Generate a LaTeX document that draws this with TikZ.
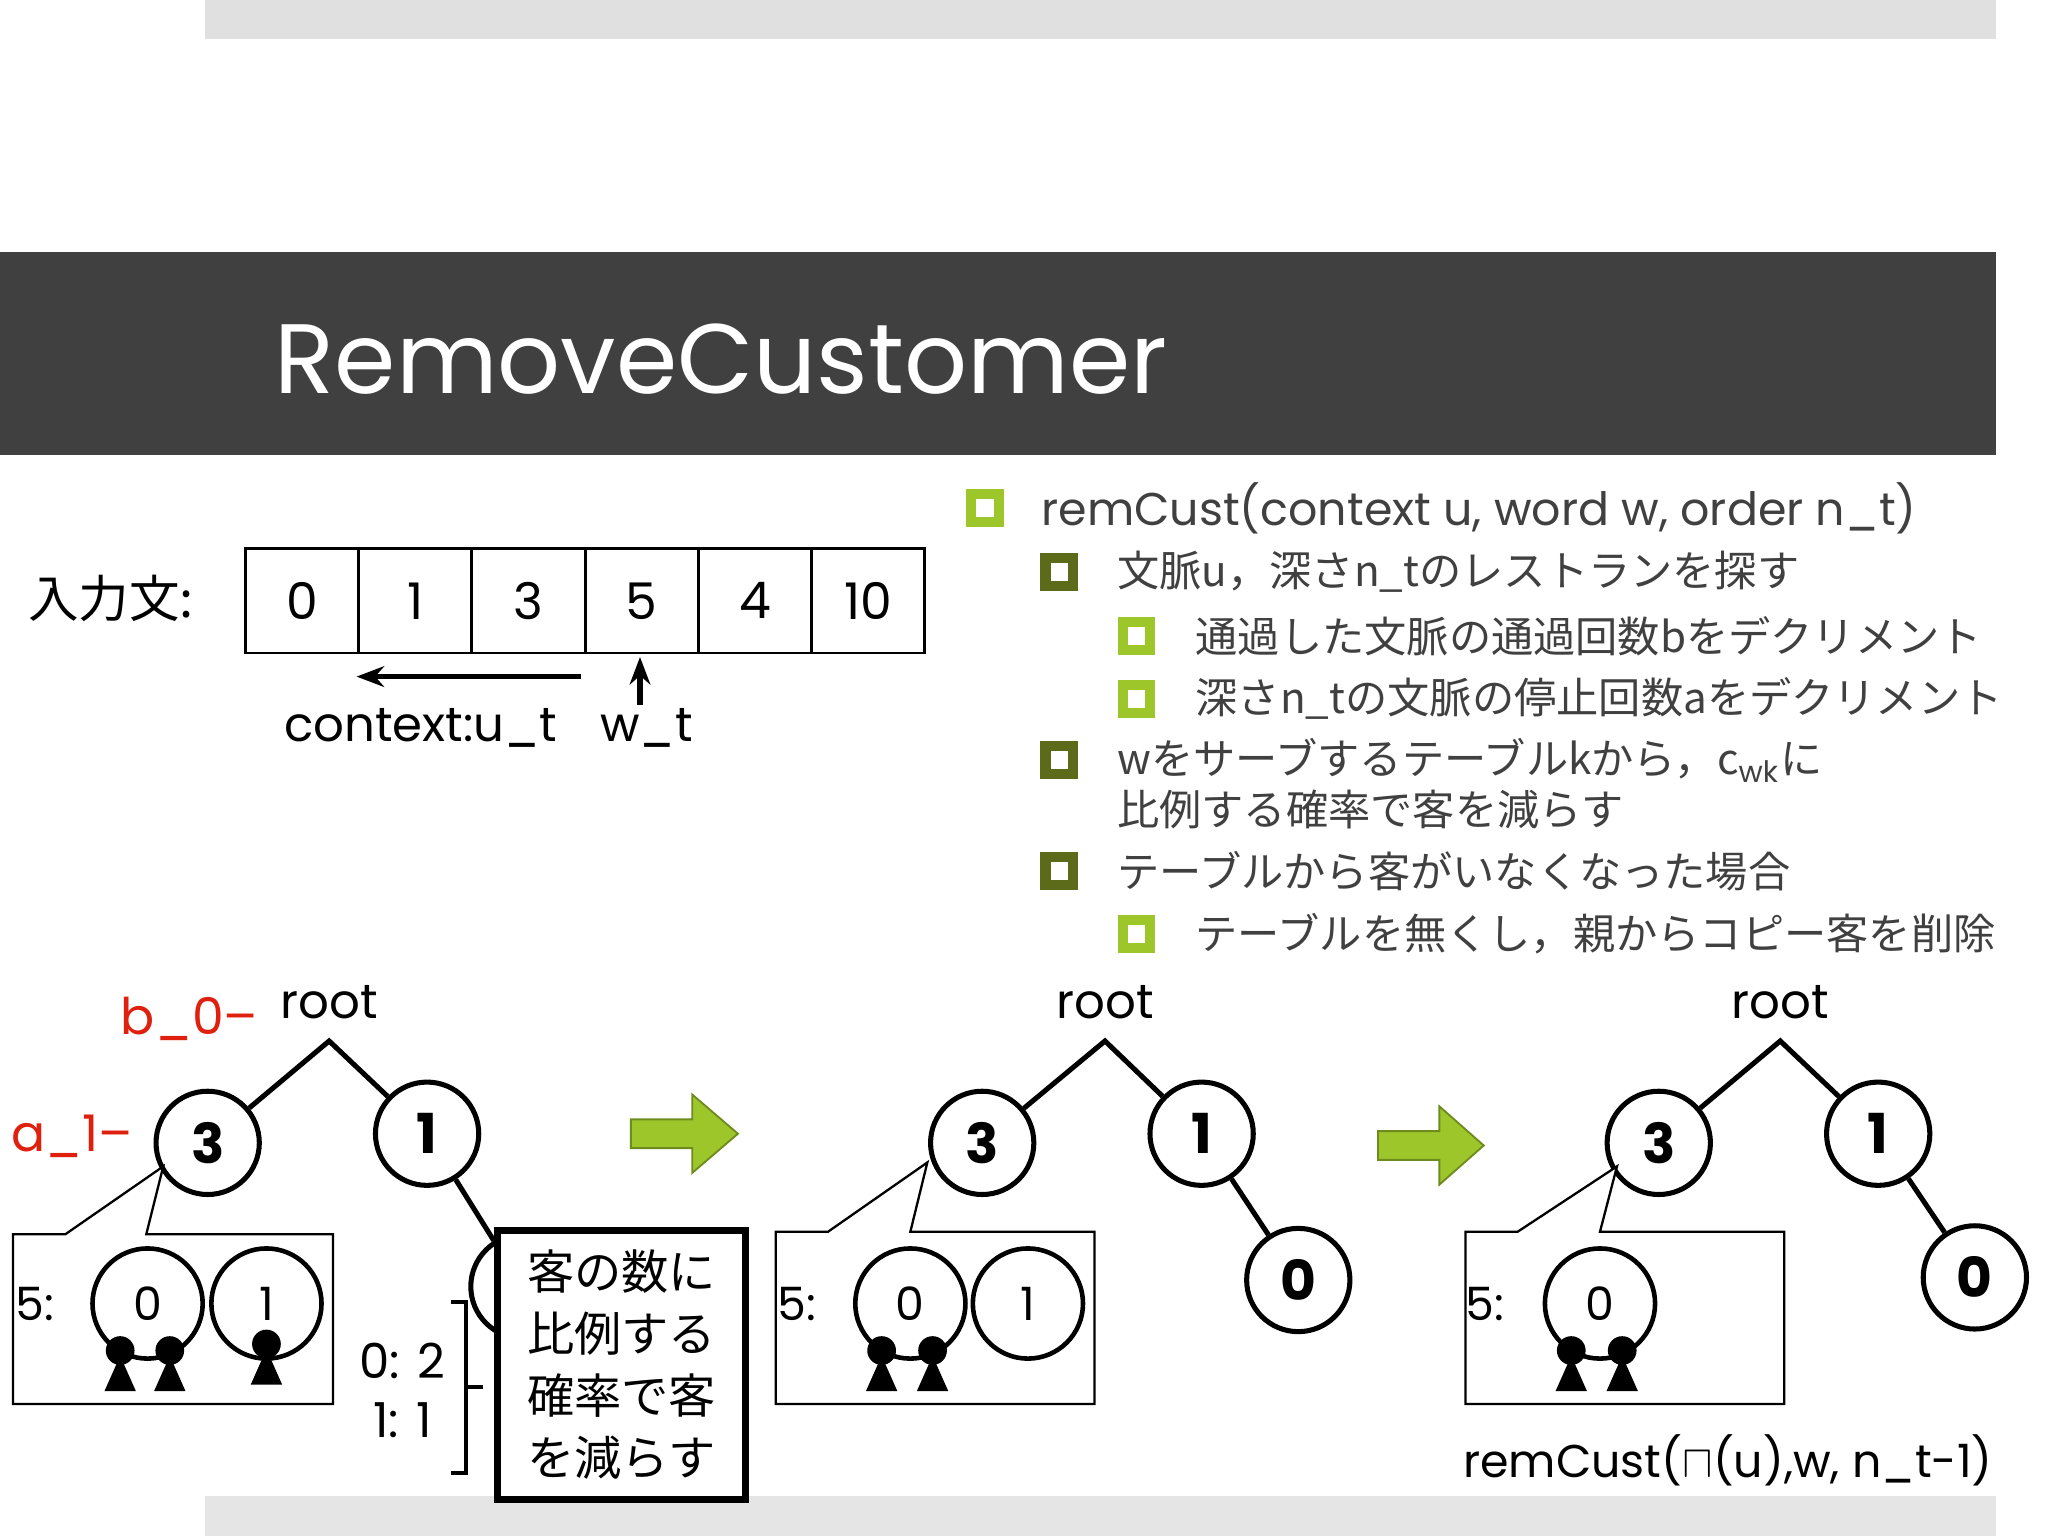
\documentclass[tikz,border=0pt]{standalone}
\usepackage{fontspec}
\setmainfont{Poppins}
\newfontfamily\jp{Noto Sans CJK JP}
\usetikzlibrary{arrows.meta,decorations.pathreplacing}
\definecolor{lg}{HTML}{9DC62A}
\definecolor{dg}{HTML}{5C6B1A}
\definecolor{rd}{HTML}{E0200E}
\tikzset{
 bl/.style={font=\fontsize{9.2}{11}\selectfont\jp,anchor=west,text=black!75},
 bx/.style={draw=#1,line width=2.2pt,minimum size=6pt,inner sep=0pt,fill=white},
 tn/.style={circle,draw,line width=1.1pt,minimum size=22.5pt,inner sep=0pt,font=\fontsize{12}{12}\selectfont\bfseries,fill=white},
 sn/.style={circle,draw,line width=1pt,minimum size=24pt,inner sep=0pt,font=\fontsize{10}{10}\selectfont},
 cb/.style={draw,line width=0.5pt,fill=white},
 lbl/.style={font=\fontsize{10.5}{12}\selectfont},
 ln/.style={line width=1.1pt},
 gar/.style={fill=lg,draw=lg!70!black,line width=0.4pt},
 cust/.pic={\fill (-12,25)--(12,25)--(0,-2)--cycle; \fill (0,-6) circle (11);}
}
\begin{document}
\begin{tikzpicture}[x=0.1mm,y=-0.1mm]
\useasboundingbox (0,0) rectangle (1568,1176);
\fill[white] (0,0) rectangle (1568,1176);
\fill[black!12] (157,0) rectangle (1528,30);
\fill[black!10] (157,1145) rectangle (1528,1176);
\fill[black!75] (0,193) rectangle (1528,348);
\node[anchor=west,text=white,font=\fontsize{21.5}{24}\selectfont] (title) at (198,275) {RemoveCustomer};
% input sentence
\node[font=\fontsize{11}{12}\selectfont\jp] (inp) at (85,458) {入力文:};
\foreach \i/\t in {0/0,1/1,2/3,3/5,4/4,5/10}{
 \node[draw,line width=0.6pt,minimum width=24.6pt,minimum height=22.7pt,inner sep=0pt,font=\fontsize{11}{12}\selectfont,anchor=west] (c\i) at (187+86.67*\i,460) {\t};}
\coordinate (al) at (273,518); \coordinate (ar) at (445,518);
\draw[ln,-{Stealth[length=6pt]}] (ar)--(al);
\coordinate (ub) at (490,540); \coordinate (ut) at (490,503);
\draw[ln,-{Stealth[length=6pt]}] (ub)--(ut);
\node[lbl] (ctx) at (322,557) {context:u\_t};
\node[lbl] (wt) at (495,557) {w\_t};
% bullets
\node[bx=lg] (b1) at (754,389) {}; \node[bl,font=\fontsize{10}{12}\selectfont] at (785,389) {remCust(context u, word w, order n\_t)};
\node[bx=dg] (b2) at (811,438) {}; \node[bl] at (843,438) {文脈u，深さn\_tのレストランを探す};
\node[bx=lg] (b3) at (870,487) {}; \node[bl] at (903,487) {通過した文脈の通過回数bをデクリメント};
\node[bx=lg] (b4) at (870,535) {}; \node[bl] at (903,535) {深さn\_tの文脈の停止回数aをデクリメント};
\node[bx=dg] (b5) at (811,582) {}; \node[bl] at (843,582) {wをサーブするテーブルkから，c$_{\mathrm{wk}}$に};
\node[bl] at (843,620) {比例する確率で客を減らす};
\node[bx=dg] (b6) at (811,667) {}; \node[bl] at (843,667) {テーブルから客がいなくなった場合};
\node[bx=lg] (b7) at (870,715) {}; \node[bl] at (903,715) {テーブルを無くし，親からコピー客を削除};
% tree 1
\node[lbl] (r1) at (252,767) {root};
\coordinate (p1) at (252,797);
\node[tn] (t13) at (159,875) {3};
\node[tn] (t11) at (327,868) {1};
\node[tn] (t10) at (400,985) {0};
\draw[ln] (t13)--(p1)--(t11)--(t10);
\node[font=\fontsize{11}{12}\selectfont,text=rd] (bl0) at (145,780) {b\_0--};
\node[font=\fontsize{11}{12}\selectfont,text=rd] (al1) at (55,870) {a\_1--};
\coordinate (k1) at (125,893);
\draw[cb] (10,945)--(50,945)--(k1)--(112,945)--(255,945)--(255,1075)--(10,1075)--cycle;
\node[font=\fontsize{10}{12}\selectfont] at (27,998) {5:};
\node[sn] (s10) at (113,998) {0};
\node[sn] (s11) at (204,998) {1};
\pic at (92,1040) {cust}; \pic at (130,1040) {cust}; \pic at (204,1035) {cust};
\node[lbl] at (308,1042) {0: 2};
\node[lbl] at (308,1087) {1: 1};
\draw[line width=0.9pt] (345,997)--(357,997)--(357,1128)--(345,1128) (357,1062)--(370,1062);
\node[draw,line width=1.5pt,fill=white,minimum width=54pt,minimum height=58.5pt,align=left,inner sep=3pt,font=\fontsize{10.3}{13.5}\selectfont\jp] (box) at (476,1045) {客の数に\\比例する\\確率で客\\を減らす};
\draw[gar] (483,857)--(530,857)--(530,838)--(565,868)--(530,898)--(530,879)--(483,879)--cycle;
% tree 2
\node[lbl] (r2) at (846,767) {root};
\coordinate (p2) at (846,797);
\node[tn] (t23) at (752,875) {3};
\node[tn] (t21) at (920,868) {1};
\node[tn] (t20) at (994,980) {0};
\draw[ln] (t23)--(p2)--(t21)--(t20);
\coordinate (k2) at (710,890);
\draw[cb] (594,943)--(634,943)--(k2)--(697,943)--(838,943)--(838,1075)--(594,1075)--cycle;
\node[font=\fontsize{10}{12}\selectfont] at (610,998) {5:};
\node[sn] (s20) at (697,998) {0};
\node[sn] (s21) at (787,998) {1};
\pic at (675,1040) {cust}; \pic at (714,1040) {cust};
\draw[gar] (1055,866)--(1102,866)--(1102,847)--(1136,877)--(1102,907)--(1102,888)--(1055,888)--cycle;
% tree 3
\node[lbl] (r3) at (1363,767) {root};
\coordinate (p3) at (1363,797);
\node[tn] (t33) at (1270,875) {3};
\node[tn] (t31) at (1438,868) {1};
\node[tn] (t30) at (1512,978) {0};
\draw[ln] (t33)--(p3)--(t31)--(t30);
\coordinate (k3) at (1238,893);
\draw[cb] (1122,943)--(1162,943)--(k3)--(1225,943)--(1366,943)--(1366,1075)--(1122,1075)--cycle;
\node[font=\fontsize{10}{12}\selectfont] at (1137,998) {5:};
\node[sn] (s30) at (1225,998) {0};
\pic at (1203,1040) {cust}; \pic at (1242,1040) {cust};
\node[font=\fontsize{10}{12}\selectfont] (rc) at (1323,1118) {remCust($\sqcap$(u),w, n\_t-1)};
\end{tikzpicture}
\end{document}
